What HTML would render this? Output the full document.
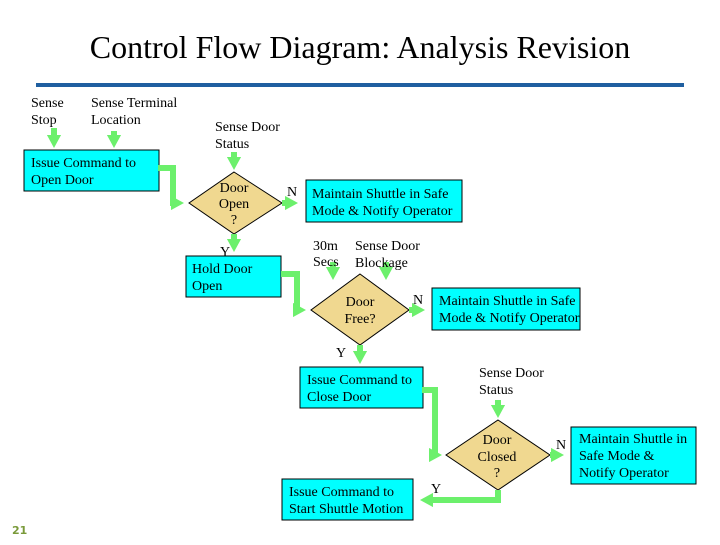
<!DOCTYPE html>
<html><head><meta charset="utf-8"><style>
body{margin:0;background:#fff}
svg text{font-family:"Liberation Serif",serif;font-size:14px;fill:#000}
</style></head><body>
<svg width="720" height="540" xmlns="http://www.w3.org/2000/svg">
<defs>
<marker id="a" markerWidth="2.2" markerHeight="2.4" refX="1.2" refY="1.2" orient="auto" markerUnits="strokeWidth">
<path d="M0,0 L2.2,1.2 L0,2.4z" fill="#6cf06c"/></marker>
</defs>
<text x="360" y="58" text-anchor="middle" style="font-size:32px">Control Flow Diagram: Analysis Revision</text>
<rect x="36" y="83" width="648" height="4" fill="#1f5fa0"/>
<g fill="#00ffff" stroke="#000" stroke-width="1">
<rect x="24" y="150" width="135" height="41"/>
<rect x="186" y="256" width="95" height="41"/>
<rect x="306" y="180" width="156" height="42"/>
<rect x="432" y="288" width="148" height="42"/>
<rect x="300" y="367" width="123" height="41"/>
<rect x="282" y="479" width="131" height="41"/>
<rect x="571" y="427" width="125" height="57"/>
</g>
<g fill="#f0d890" stroke="#000" stroke-width="1">
<polygon points="234,172 282,203 234,234 189,203"/>
<polygon points="360,274 409,310 360,345 311,310"/>
<polygon points="498,420 550,455 498,490 446,455"/>
</g>
<g stroke="#6cf06c" stroke-width="6" fill="none" marker-end="url(#a)" stroke-linejoin="miter">
<path d="M54,128 V142"/>
<path d="M114,131 V142"/>
<path d="M234,152 V164"/>
<path d="M158,168 H173 V203 H178"/>
<path d="M282,203 H292"/>
<path d="M234,234 V246"/>
<path d="M281,274 H297 V310 H300"/>
<path d="M333,262 V274"/>
<path d="M386,262 V274"/>
<path d="M409,310 H419"/>
<path d="M360,345 V358"/>
<path d="M498,400 V412"/>
<path d="M422,390 H435 V455 H436"/>
<path d="M550,455 H558"/>
<path d="M498,490 V500 H426"/>
</g>
<text x="31" y="107">Sense</text><text x="31" y="124">Stop</text>
<text x="91" y="107">Sense Terminal</text><text x="91" y="124">Location</text>
<text x="215" y="131">Sense Door</text><text x="215" y="148">Status</text>
<text x="31" y="167">Issue Command to</text><text x="31" y="184">Open Door</text>
<text x="234" y="192" text-anchor="middle">Door</text><text x="234" y="208" text-anchor="middle">Open</text><text x="234" y="224" text-anchor="middle">?</text>
<text x="287" y="196">N</text>
<text x="312" y="198">Maintain Shuttle in Safe</text><text x="312" y="215">Mode &amp; Notify Operator</text>
<text x="220" y="256">Y</text>
<text x="192" y="273">Hold Door</text><text x="192" y="290">Open</text>
<text x="313" y="250">30m</text><text x="313" y="266">Secs</text>
<text x="355" y="250">Sense Door</text><text x="355" y="267">Blockage</text>
<text x="360" y="306" text-anchor="middle">Door</text><text x="360" y="323" text-anchor="middle">Free?</text>
<text x="413" y="304">N</text>
<text x="439" y="305">Maintain Shuttle in Safe</text><text x="439" y="322">Mode &amp; Notify Operator</text>
<text x="336" y="357">Y</text>
<text x="479" y="377">Sense Door</text><text x="479" y="394">Status</text>
<text x="307" y="384">Issue Command to</text><text x="307" y="401">Close Door</text>
<text x="497" y="444" text-anchor="middle">Door</text><text x="497" y="461" text-anchor="middle">Closed</text><text x="497" y="477" text-anchor="middle">?</text>
<text x="556" y="449">N</text>
<text x="579" y="443">Maintain Shuttle in</text><text x="579" y="460">Safe Mode &amp;</text><text x="579" y="477">Notify Operator</text>
<text x="431" y="493">Y</text>
<text x="289" y="496">Issue Command to</text><text x="289" y="513">Start Shuttle Motion</text>
<text x="12" y="534" style="font-family:'DejaVu Sans',sans-serif;font-size:11px;font-weight:bold;fill:#7a9a3a">21</text>
</svg>
</body></html>
